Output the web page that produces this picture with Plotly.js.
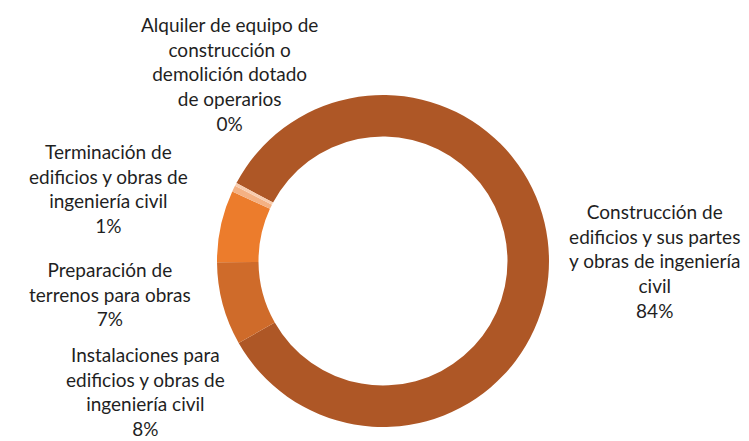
<!DOCTYPE html>
<html>
<head>
<meta charset="utf-8">
<script src="https://cdn.plot.ly/plotly-3.0.1.min.js"></script>
<style>html,body{margin:0;padding:0;background:#fff;}#chart{width:749px;height:441px;}</style>
</head>
<body>
<div id="chart"></div>
<script>
// Data
var categories = [
  "Construcción de edificios y sus partes y obras de ingeniería civil",
  "Instalaciones para edificios y obras de ingeniería civil",
  "Preparación de terrenos para obras",
  "Terminación de edificios y obras de ingeniería civil",
  "Alquiler de equipo de construcción o demolición dotado de operarios"
];
var values = [84.0, 8.1, 7.0, 0.6, 0.3];
var labelText = [
  "Construcción de<br>edificios y sus partes<br>y obras de ingeniería<br>civil",
  "Instalaciones para<br>edificios y obras de<br>ingeniería civil",
  "Preparación de<br>terrenos para obras",
  "Terminación de<br>edificios y obras de<br>ingeniería civil",
  "Alquiler de equipo de<br>construcción o<br>demolición dotado<br>de operarios"
];
var colors = ["#AE5726", "#CF6B2A", "#EC7C2C", "#F4B183", "#F8CBAD"];

// label anchor positions (pixels)
var labelPos = [[654, 261], [145, 391], [110, 294], [108, 188], [229, 74]];

var W = 749, H = 441;
var total = values.reduce(function(a, b){ return a + b; }, 0);
var annotations = labelText.map(function(t, i){
  return {
    text: t + "<br>" + Math.round(values[i] / total * 100) + "%",
    x: labelPos[i][0] / W, y: 1 - labelPos[i][1] / H,
    xref: "paper", yref: "paper",
    xanchor: "center", yanchor: "middle", align: "center",
    showarrow: false,
    font: {family: "Lato, 'Open Sans', sans-serif", size: 19, color: "#1f1f1f"}
  };
});

var cx = 383, cy = 261, r = 166;
var trace = {
  type: "pie",
  labels: categories,
  values: values,
  sort: false,
  direction: "clockwise",
  rotation: -62,
  hole: 0.75,
  textinfo: "none",
  hoverinfo: "label+percent",
  marker: {colors: colors, line: {width: 0}},
  domain: {x: [(cx - r) / W, (cx + r) / W], y: [1 - (cy + r) / H, 1 - (cy - r) / H]}
};

var layout = {
  width: W, height: H,
  margin: {l: 0, r: 0, t: 0, b: 0},
  showlegend: false,
  paper_bgcolor: "#ffffff",
  annotations: annotations
};

Plotly.newPlot("chart", [trace], layout, {displayModeBar: false, staticPlot: true});
</script>
</body>
</html>
